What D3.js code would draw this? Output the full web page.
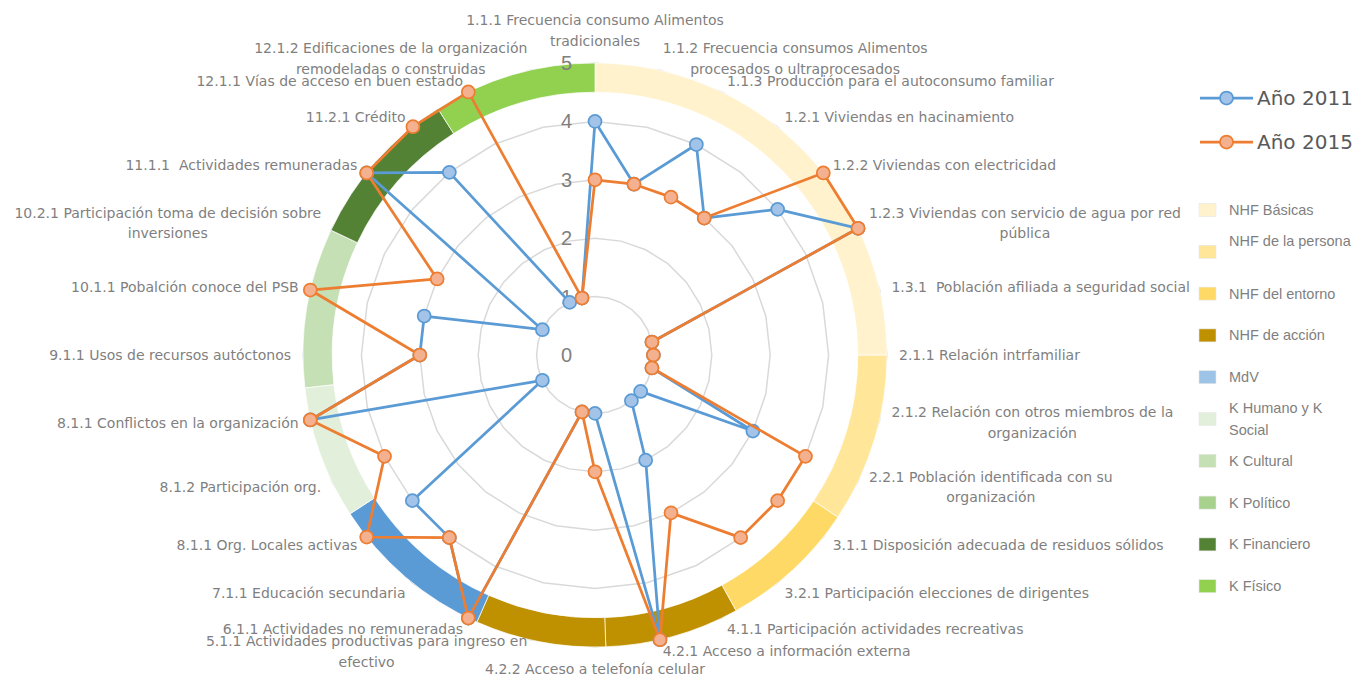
<!DOCTYPE html>
<html>
<head>
<meta charset="utf-8">
<script src="https://cdn.jsdelivr.net/npm/d3@7"></script>
<style>
  body { margin: 0; background: #fff; }
  text { font-family: "DejaVu Sans", Verdana, sans-serif; white-space: pre; }
</style>
</head>
<body>
<svg id="chart"></svg>
<script>
const width = 1359;
const height = 677;

// axis labels, clockwise from the top
const axisLabels = [
  "1.1.1 Frecuencia consumo Alimentos\ntradicionales",
  "1.1.2 Frecuencia consumos Alimentos\nprocesados o ultraprocesados",
  "1.1.3 Producción para el autoconsumo familiar",
  "1.2.1 Viviendas en hacinamiento",
  "1.2.2 Viviendas con electricidad",
  "1.2.3 Viviendas con servicio de agua por red\npública",
  "1.3.1  Población afiliada a seguridad social",
  "2.1.1 Relación intrfamiliar",
  "2.1.2 Relación con otros miembros de la\norganización",
  "2.2.1 Población identificada con su\norganización",
  "3.1.1 Disposición adecuada de residuos sólidos",
  "3.2.1 Participación elecciones de dirigentes",
  "4.1.1 Participación actividades recreativas",
  "4.2.1 Acceso a información externa",
  "4.2.2 Acceso a telefonía celular",
  "5.1.1 Actividades productivas para ingreso en\nefectivo",
  "6.1.1 Actividades no remuneradas",
  "7.1.1 Educación secundaria",
  "8.1.1 Org. Locales activas",
  "8.1.2 Participación org.",
  "8.1.1 Conflictos en la organización",
  "9.1.1 Usos de recursos autóctonos",
  "10.1.1 Pobalción conoce del PSB",
  "10.2.1 Participación toma de decisión sobre\ninversiones",
  "11.1.1  Actividades remuneradas",
  "11.2.1 Crédito",
  "12.1.1 Vías de acceso en buen estado",
  "12.1.2 Edificaciones de la organización\nremodeladas o construidas"
];

const values2011 = [4, 3, 4, 3, 4, 5, 1, 1, 1, 3, 1, 1, 2, 5, 1, 1, 5, 4, 4, 1, 5, 3, 3, 1, 5, 4, 1, 1];
const values2015 = [3, 3, 3, 3, 5, 5, 1, 1, 1, 4, 4, 4, 3, 5, 2, 1, 5, 4, 5, 4, 5, 3, 5, 3, 5, 5, 5, 1];

const ringTicks = [0, 1, 2, 3, 4, 5];

// outer doughnut band (slice sizes in axis steps)
const bandNames = ["NHF Básicas", "NHF de la persona", "NHF del entorno", "NHF de acción", "NHF de acción",
  "MdV", "K Humano y K Social", "K Cultural", "K Político", "K Financiero", "K Físico"];
const bandValues = [7, 2.62, 2.13, 2.08, 2.02, 2.58, 2.06, 2.47, 0, 2.5, 2.53];
const bandColors = ["#fff2cc", "#ffe699", "#ffd966", "#bf9000", "#bf9000",
  "#5b9bd5", "#e2efda", "#c5e0b4", "#a9d18e", "#548235", "#92d050"];

const legendNames = ["NHF Básicas", "NHF de la persona\n", "NHF del entorno", "NHF de acción", "MdV",
  "K Humano y K\nSocial", "K Cultural", "K Político", "K Financiero", "K Físico"];
const legendColors = ["#fff2cc", "#ffe699", "#ffd966", "#bf9000", "#9dc3e6",
  "#e2efda", "#c5e0b4", "#a9d18e", "#548235", "#92d050"];

const series = [
  { name: "Año 2011", values: values2011, line: "#5b9bd5", fill: "#a3c4e8" },
  { name: "Año 2015", values: values2015, line: "#ed7d31", fill: "#f4b18f" }
];

const cx = 595, cy = 355, R = 292;
const n = axisLabels.length;

const svg = d3.select("#chart").attr("width", width).attr("height", height);
svg.append("rect").attr("width", width).attr("height", height).attr("fill", "#fff");

const g = svg.append("g").attr("transform", `translate(${cx},${cy})`);

const r = d3.scaleLinear().domain([0, 5]).range([0, R]);
const angle = d3.scaleLinear().domain([0, n]).range([0, 2 * Math.PI]);

// grid rings (polygons)
const ring = d3.lineRadial().curve(d3.curveLinearClosed);
g.selectAll(".ring")
  .data(ringTicks.filter(t => t > 0))
  .join("path")
    .attr("class", "ring")
    .attr("d", t => ring(d3.range(n).map(i => [angle(i), r(t)])))
    .attr("fill", "none")
    .attr("stroke", "#d9d9d9")
    .attr("stroke-width", 1.5);

// doughnut band
const pie = d3.pie().sort(null).value(d => d)(bandValues);
const arc = d3.arc().innerRadius(R * 0.9).outerRadius(R);
g.selectAll(".band")
  .data(pie)
  .join("path")
    .attr("class", "band")
    .attr("d", arc)
    .attr("fill", (d, i) => bandColors[i])
    .attr("stroke", "#fff")
    .attr("stroke-width", 0.7);

// ring value labels
g.selectAll(".tick")
  .data(ringTicks)
  .join("text")
    .attr("class", "tick")
    .attr("x", -23)
    .attr("y", t => -r(t))
    .attr("text-anchor", "end")
    .attr("dominant-baseline", "central")
    .attr("fill", "#7f7f7f")
    .style("font-family", "'Liberation Sans', Arial, sans-serif")
    .style("font-size", "20px")
    .text(t => t);

// series
const line = d3.lineRadial()
  .angle((d, i) => angle(i))
  .radius(d => r(d))
  .curve(d3.curveLinearClosed);

series.forEach(s => {
  g.append("path")
    .attr("d", line(s.values))
    .attr("fill", "none")
    .attr("stroke", s.line)
    .attr("stroke-width", 2.75)
    .attr("stroke-linejoin", "round");

  g.selectAll(null)
    .data(s.values)
    .join("circle")
      .attr("cx", (d, i) => r(d) * Math.sin(angle(i)))
      .attr("cy", (d, i) => -r(d) * Math.cos(angle(i)))
      .attr("r", 6.5)
      .attr("fill", s.fill)
      .attr("stroke", s.line)
      .attr("stroke-width", 1.75);
});

// axis labels
const labelR = 304;
const lh = 20.5;
axisLabels.forEach((label, i) => {
  const a = angle(i);
  const px = labelR * Math.sin(a);
  const py = -labelR * Math.cos(a);
  const lines = label.split("\n");
  const t = g.append("text")
    .attr("fill", "#7f7f7f")
    .style("font-size", "14px")
    .attr("dominant-baseline", "central");

  lines.forEach(ln => {
    t.append("tspan").text(ln);
  });

  // measure the block then place it
  const widths = t.selectAll("tspan").nodes().map(nd => nd.getComputedTextLength());
  const w = d3.max(widths);
  let blockCx, firstY;
  if (Math.abs(Math.sin(a)) < 0.05) {
    blockCx = px;
    firstY = Math.cos(a) > 0 ? py - lh / 2 - (lines.length - 1) * lh : py + lh / 2;
  } else {
    blockCx = Math.sin(a) > 0 ? px + w / 2 : px - w / 2;
    firstY = py - (lines.length - 1) * lh / 2;
  }
  t.selectAll("tspan")
    .attr("x", blockCx)
    .attr("y", (d, k) => firstY + k * lh)
    .attr("text-anchor", "middle");
});

// series legend
const leg1 = svg.append("g").attr("transform", "translate(1200,98)");
series.forEach((s, i) => {
  const row = leg1.append("g").attr("transform", `translate(0,${i * 44})`);
  row.append("line")
    .attr("x1", 0).attr("x2", 53)
    .attr("stroke", s.line).attr("stroke-width", 2.75);
  row.append("circle")
    .attr("cx", 26.5).attr("r", 6.5)
    .attr("fill", s.fill).attr("stroke", s.line).attr("stroke-width", 1.75);
  row.append("text")
    .attr("x", 57).attr("dominant-baseline", "central")
    .attr("fill", "#595959")
    .style("font-size", "20px")
    .text(s.name);
});

// category legend
const leg2 = svg.append("g").attr("transform", "translate(1199,210)");
legendNames.forEach((name, i) => {
  const y = i * 41.8;
  leg2.append("rect")
    .attr("x", 0).attr("y", y - 6.5)
    .attr("width", 17).attr("height", 13)
    .attr("fill", legendColors[i])
    .attr("stroke", "#e6e6e6").attr("stroke-width", 0.6);
  const lines = name.split("\n");
  const t = leg2.append("text")
    .attr("fill", "#7f7f7f")
    .attr("dominant-baseline", "central")
    .style("font-family", "'Liberation Sans', Arial, sans-serif")
    .style("font-size", "14.5px");
  lines.forEach((ln, k) => {
    t.append("tspan")
      .attr("x", 30)
      .attr("y", y + (k - (lines.length - 1) / 2) * 21.5)
      .text(ln);
  });
});
</script>
</body>
</html>
